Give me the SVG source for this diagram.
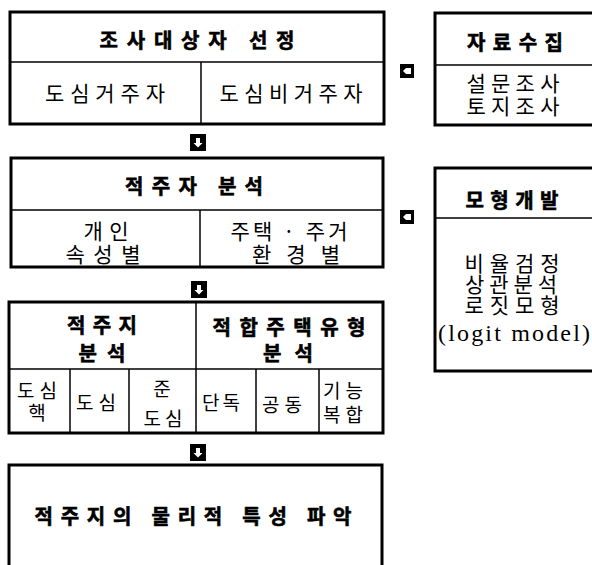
<svg xmlns="http://www.w3.org/2000/svg" width="592" height="565" viewBox="0 0 592 565">
<defs>
<style>
.box{fill:#fff;stroke:#000;stroke-width:3}
.div{stroke:#000;stroke-width:1.5;fill:none}
text{font-family:"Noto Sans CJK KR","Noto Sans",sans-serif;fill:#000;text-anchor:middle;dominant-baseline:central}
.h{font-weight:bold;font-size:20px;stroke:#000;stroke-width:0.6px}
.r{font-size:21px}
.s{font-size:19px}
.lat{font-family:"Liberation Serif","DejaVu Serif",serif;font-size:24px}
</style>
<g id="downIcon">
<rect x="0" y="0" width="16" height="17" fill="#000"/>
<path d="M6,4 H10 V9 H12.5 L8,13.5 L3.5,9 H6 Z" fill="#fff"/>
</g>
<g id="leftIcon">
<rect x="0" y="0" width="14" height="14" fill="#000"/>
<path d="M3,7 L6,4 H11 V10 H6 Z" fill="#fff"/>
</g>
</defs>
<rect width="592" height="565" fill="#fff"/>

<g id="node-survey-target">
<rect class="box" x="10" y="12" width="374" height="112"/>
<line class="div" x1="10" y1="62" x2="384" y2="62"/>
<line class="div" x1="201" y1="62" x2="201" y2="124"/>
<text class="h" x="197" y="39" textLength="195" lengthAdjust="spacing">조사대상자 선정</text>
<text class="r" x="105" y="92" textLength="120" lengthAdjust="spacing">도심거주자</text>
<text class="r" x="291" y="92" textLength="143" lengthAdjust="spacing">도심비거주자</text>
</g>

<g id="node-data-collection">
<rect class="box" x="435" y="13" width="160" height="112"/>
<line class="div" x1="435" y1="65" x2="595" y2="65"/>
<text class="h" x="515" y="41" textLength="96" lengthAdjust="spacing">자료수집</text>
<text class="r" x="513" y="82" textLength="93" lengthAdjust="spacing">설문조사</text>
<text class="r" x="513" y="105" textLength="93" lengthAdjust="spacing">토지조사</text>
</g>

<g id="node-resident-analysis">
<rect class="box" x="11" y="158" width="372" height="109"/>
<line class="div" x1="11" y1="210" x2="383" y2="210"/>
<line class="div" x1="200" y1="210" x2="200" y2="267"/>
<text class="h" x="194" y="185" textLength="138" lengthAdjust="spacing">적주자 분석</text>
<text class="r" x="106" y="230" textLength="45" lengthAdjust="spacing">개인</text>
<text class="r" x="103" y="253" textLength="75" lengthAdjust="spacing">속성별</text>
<text class="r" x="289" y="230" textLength="117" lengthAdjust="spacing">주택 · 주거</text>
<text class="r" x="296" y="253" textLength="88" lengthAdjust="spacing">환경별</text>
</g>

<g id="node-model-dev">
<rect class="box" x="435" y="168" width="160" height="203"/>
<line class="div" x1="435" y1="218" x2="595" y2="218"/>
<text class="h" x="512" y="199" textLength="93" lengthAdjust="spacing">모형개발</text>
<text class="r" x="512" y="262" textLength="95" lengthAdjust="spacing">비율검정</text>
<text class="r" x="511" y="283" textLength="92" lengthAdjust="spacing">상관분석</text>
<text class="r" x="512" y="304" textLength="95" lengthAdjust="spacing">로짓모형</text>
<text class="lat" x="514" y="333" textLength="152" lengthAdjust="spacing">(logit model)</text>
</g>

<g id="node-location-housing">
<rect class="box" x="9" y="302" width="374" height="131"/>
<line class="div" x1="9" y1="369" x2="383" y2="369"/>
<line class="div" x1="196" y1="302" x2="196" y2="433"/>
<line class="div" x1="70" y1="369" x2="70" y2="433"/>
<line class="div" x1="129" y1="369" x2="129" y2="433"/>
<line class="div" x1="256" y1="369" x2="256" y2="433"/>
<line class="div" x1="319" y1="369" x2="319" y2="433"/>
<text class="h" x="102" y="324" textLength="70" lengthAdjust="spacing">적주지</text>
<text class="h" x="102" y="352" textLength="47" lengthAdjust="spacing">분석</text>
<text class="h" x="289" y="326" textLength="153" lengthAdjust="spacing">적합주택유형</text>
<text class="h" x="288" y="352" textLength="50" lengthAdjust="spacing">분석</text>
<text class="s" x="37" y="389" textLength="40" lengthAdjust="spacing">도심</text>
<text class="s" x="37" y="411">핵</text>
<text class="s" x="96" y="401" textLength="40" lengthAdjust="spacing">도심</text>
<text class="s" x="162" y="387">준</text>
<text class="s" x="163" y="417" textLength="39" lengthAdjust="spacing">도심</text>
<text class="s" x="221" y="401" textLength="38" lengthAdjust="spacing">단독</text>
<text class="s" x="282" y="403" textLength="40" lengthAdjust="spacing">공동</text>
<text class="s" x="343" y="389" textLength="40" lengthAdjust="spacing">기능</text>
<text class="s" x="343" y="413" textLength="40" lengthAdjust="spacing">복합</text>
</g>

<g id="node-physical">
<rect class="box" x="9" y="465" width="373" height="110"/>
<text class="h" x="193" y="515" textLength="317" lengthAdjust="spacing">적주지의 물리적 특성 파악</text>
</g>

<g id="connectors">
<use href="#downIcon" x="190" y="134"/>
<use href="#downIcon" x="191" y="281"/>
<use href="#downIcon" x="190" y="444"/>
<use href="#leftIcon" x="400" y="64"/>
<use href="#leftIcon" x="400" y="210"/>
</g>
</svg>
